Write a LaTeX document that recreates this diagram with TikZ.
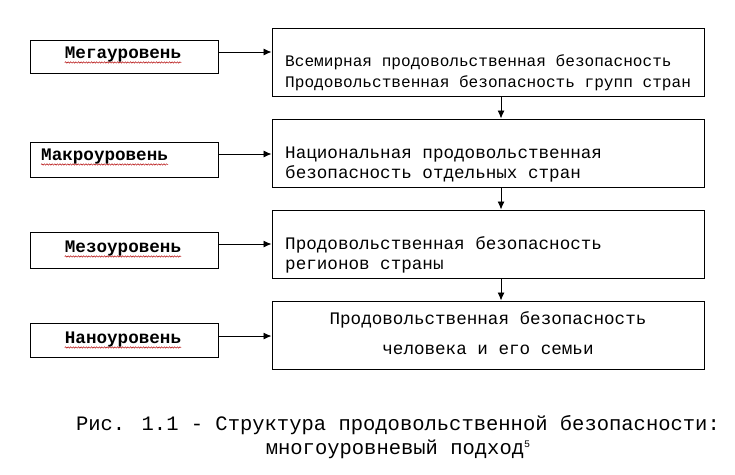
\documentclass[tikz,border=0pt]{standalone}
\usepackage{fontspec}
\newfontfamily\cour{Liberation Mono}
\usetikzlibrary{arrows.meta,decorations.pathmorphing}
\begin{document}
\begin{tikzpicture}[x=1pt,y=-1pt,
  lbox/.style={draw,line width=1pt,minimum width=188pt,inner sep=0pt},
  rbox/.style={draw,line width=1pt,minimum width=432pt,minimum height=68pt,inner sep=0pt},
  lab/.style={font=\cour\bfseries\fontsize{17.6}{20}\selectfont,inner sep=0pt},
  txt/.style={font=\cour\fontsize{17.6}{20}\selectfont,align=left,inner sep=0pt,anchor=west},
  arr/.style={line width=0.9pt,-{Latex[length=8pt,width=7pt]}},
  wavy/.style={red!70!black,line width=0.45pt,decorate,decoration={snake,amplitude=0.7pt,segment length=2.6pt}}
]
\useasboundingbox[fill=white] (0,0) rectangle (735,474);

% left level boxes
\node[lbox,minimum height=33pt] (l1) at (124,56.5) {};
\node[lbox,minimum height=35pt] (l2) at (124,159.5) {};
\node[lbox,minimum height=36pt] (l3) at (124,250) {};
\node[lbox,minimum height=34pt] (l4) at (124,340) {};

\node[lab] (t1) at (123,55) {Мегауровень};
\node[lab,anchor=west] (t2) at (41,157) {Макроуровень};
\node[lab] (t3) at (123,249) {Мезоуровень};
\node[lab] (t4) at (123,340) {Наноуровень};

\foreach \t in {t1,t2,t3,t4}
  \draw[wavy] ([yshift=-3.5pt]\t.base west) -- ([yshift=-3.5pt]\t.base east);

% right boxes
\node[rbox] (r1) at (488,62) {};
\node[rbox] (r2) at (488,153) {};
\node[rbox] (r3) at (488,244) {};
\node[rbox] (r4) at (488,335) {};

\node[txt,font=\cour\fontsize{16.1}{20.6}\selectfont] (x1) at (285,73)
  {Всемирная продовольственная безопасность\\Продовольственная безопасность групп стран};
\node[txt] (x2) at (285,165)
  {Национальная продовольственная\\безопасность отдельных стран};
\node[txt] (x3) at (285,255)
  {Продовольственная безопасность\\регионов страны};
\node[txt,anchor=center,align=center,font=\cour\fontsize{17.6}{30}\selectfont] (x4) at (488,333)
  {Продовольственная безопасность\\человека и его семьи};

% horizontal arrows
\coordinate (a1) at (0,52);
\coordinate (a2) at (0,154);
\coordinate (a3) at (0,244);
\coordinate (a4) at (0,336);
\draw[arr] (l1.east |- a1) -- (r1.west |- a1);
\draw[arr] (l2.east |- a2) -- (r2.west |- a2);
\draw[arr] (l3.east |- a3) -- (r3.west |- a3);
\draw[arr] (l4.east |- a4) -- (r4.west |- a4);

% vertical arrows
\coordinate (v) at (501,0);
\draw[arr] (r1.south -| v) -- (r2.north -| v);
\draw[arr] (r2.south -| v) -- (r3.north -| v);
\draw[arr] (r3.south -| v) -- (r4.north -| v);

% caption
\node[font=\cour\fontsize{20.5}{24}\selectfont,align=center,inner sep=0pt] (cap) at (398,437)
  {Рис. 1.1 - Структура продовольственной безопасности:\\многоуровневый подход\raisebox{7pt}{\fontsize{10}{10}\selectfont 5}};
\end{tikzpicture}
\end{document}
